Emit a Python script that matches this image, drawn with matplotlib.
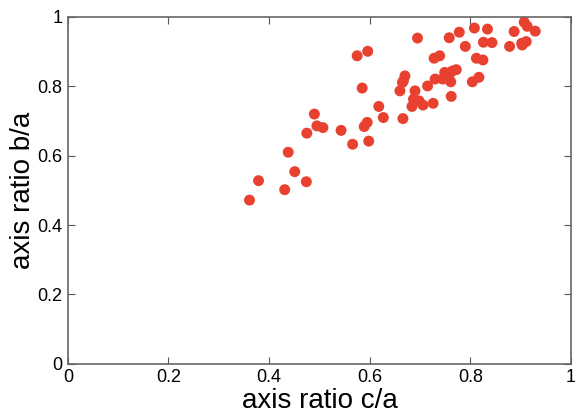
import matplotlib
matplotlib.use("Agg")
import matplotlib.pyplot as plt

plt.rcParams["font.family"] = ["Liberation Sans", "DejaVu Sans"]

# axis ratios
c_over_a = [
    0.361, 0.379, 0.431, 0.438, 0.451, 0.474, 0.475, 0.490, 0.495, 0.507,
    0.543, 0.566, 0.575, 0.596, 0.585, 0.598, 0.589, 0.595, 0.618, 0.627,
    0.666, 0.660, 0.667, 0.670, 0.665, 0.684, 0.687, 0.690, 0.698, 0.706,
    0.726, 0.762, 0.715, 0.730, 0.745, 0.757, 0.761, 0.749, 0.764, 0.772,
    0.728, 0.739, 0.695, 0.758, 0.778, 0.808, 0.834, 0.790, 0.826, 0.843,
    0.812, 0.825, 0.804, 0.817, 0.878, 0.887, 0.907, 0.913, 0.929, 0.902,
    0.911, 0.903,
]
b_over_a = [
    0.472, 0.528, 0.502, 0.610, 0.554, 0.525, 0.665, 0.720, 0.686, 0.681,
    0.673, 0.633, 0.888, 0.901, 0.795, 0.642, 0.684, 0.696, 0.742, 0.710,
    0.707, 0.787, 0.816, 0.830, 0.811, 0.742, 0.763, 0.787, 0.758, 0.746,
    0.751, 0.771, 0.801, 0.821, 0.821, 0.826, 0.813, 0.840, 0.844, 0.848,
    0.881, 0.888, 0.939, 0.940, 0.956, 0.968, 0.965, 0.915, 0.927, 0.926,
    0.881, 0.876, 0.813, 0.826, 0.915, 0.958, 0.985, 0.973, 0.959, 0.924,
    0.929, 0.919,
]
ticks = [0, 0.2, 0.4, 0.6, 0.8, 1]
tick_labels = ["0", "0.2", "0.4", "0.6", "0.8", "1"]

fig = plt.figure(figsize=(5.75, 4.13), dpi=100)
ax = fig.add_axes([0.118, 0.119, 0.875, 0.840])

ax.scatter(c_over_a, b_over_a, s=62, color="#e8412f", edgecolors="none")

ax.set_xlim(0, 1)
ax.set_ylim(0, 1)
ax.set_xticks(ticks)
ax.set_xticklabels(tick_labels)
ax.set_yticks(ticks)
ax.set_yticklabels(tick_labels)
ax.tick_params(direction="in", top=True, right=True, labelsize=13,
               length=5, color="#555555", pad=4)
for sp in ax.spines.values():
    sp.set_color("#666666")
    sp.set_linewidth(1.2)

ax.set_xlabel("axis ratio c/a", fontsize=20, labelpad=1)
ax.set_ylabel("axis ratio b/a", fontsize=20, labelpad=1)

fig.savefig("out.png", dpi=100)
